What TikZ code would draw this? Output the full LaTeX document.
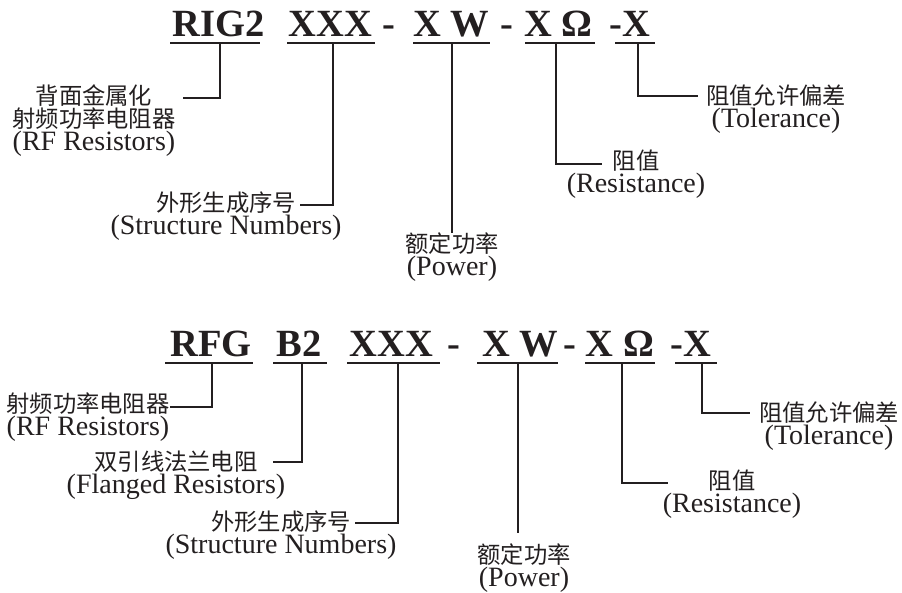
\documentclass[tikz,border=0pt]{standalone}
\usepackage{fontspec}
\newfontfamily\titlefont{Liberation Serif}
\newfontfamily\cjk{Noto Sans CJK SC}
\definecolor{ink}{HTML}{231F20}
\newcommand{\zh}[1]{{\cjk\fontsize{23.3}{23}\selectfont #1}}
\begin{document}
\begin{tikzpicture}[x=1pt,y=-1pt,
  title/.style={font=\titlefont\bfseries\fontsize{38.5}{40}\selectfont, inner sep=0pt, anchor=base, text=ink},
  lab/.style={align=center, inner sep=0pt, text=ink, font=\titlefont\fontsize{28}{23}\selectfont},
  ul/.style={draw=ink, line width=1.6pt},
  con/.style={draw=ink, line width=1.2pt}]
\useasboundingbox[fill=white] (0,0) rectangle (902,593);

% ---------- top code ----------
\node[title] (a1) at (218.5,37) {RIG2};
\node[title] (a2) at (330.5,37) {XXX};
\node[title] (a3) at (389,37) {-};
\node[title] (a4) at (451.5,37) {X W};
\node[title] (a5) at (507,37) {-};
\node[title] (a6) at (558.5,37) {X Ω};
\node[title] (a7) at (630,37) {-X};

\draw[ul] (170,43) -- (260,43);
\draw[ul] (287,43) -- (375,43);
\draw[ul] (413,43) -- (490,43);
\draw[ul] (525,43) -- (595,43);
\draw[ul] (615,43) -- (655,43);

\node[lab] (l1) at (94,121) {\zh{背面金属化}\\\zh{射频功率电阻器}\\(RF Resistors)};
\node[lab] (l2) at (226,216.5) {\zh{外形生成序号}\\(Structure Numbers)};
\node[lab] (l3) at (452,257.5) {\zh{额定功率}\\(Power)};
\node[lab] (l4) at (636,174) {\zh{阻值}\\(Resistance)};
\node[lab] (l5) at (776,109) {\zh{阻值允许偏差}\\(Tolerance)};

\coordinate (p1) at (220,43);  \coordinate (q1) at (183,98);
\coordinate (p2) at (333,43);  \coordinate (q2) at (300,205);
\coordinate (p3) at (452,43);  \coordinate (q3) at (452,233);
\coordinate (p4) at (556,43);  \coordinate (q4) at (602,164);
\coordinate (p5) at (638,43);  \coordinate (q5) at (698,96);
\draw[con] (p1) |- (q1);
\draw[con] (p2) |- (q2);
\draw[con] (p3) -- (q3);
\draw[con] (p4) |- (q4);
\draw[con] (p5) |- (q5);

% ---------- bottom code ----------
\node[title] (b1) at (211,357) {RFG};
\node[title] (b2) at (299,357) {B2};
\node[title] (b3) at (391.5,357) {XXX};
\node[title] (b4) at (454,357) {-};
\node[title] (b5) at (520,357) {X W};
\node[title] (b6) at (570,357) {-};
\node[title] (b7) at (620,357) {X Ω};
\node[title] (b8) at (691,357) {-X};

\draw[ul] (165,363) -- (253,363);
\draw[ul] (273,363) -- (327,363);
\draw[ul] (347,363) -- (440,363);
\draw[ul] (477,363) -- (558,363);
\draw[ul] (585,363) -- (655,363);
\draw[ul] (675,363) -- (717,363);

\node[lab] (m1) at (88,417.5) {\zh{射频功率电阻器}\\(RF Resistors)};
\node[lab] (m2) at (176,475) {\zh{双引线法兰电阻}\\(Flanged Resistors)};
\node[lab] (m3) at (281,535) {\zh{外形生成序号}\\(Structure Numbers)};
\node[lab] (m4) at (524,568.5) {\zh{额定功率}\\(Power)};
\node[lab] (m5) at (732,494.5) {\zh{阻值}\\(Resistance)};
\node[lab] (m6) at (829,426.5) {\zh{阻值允许偏差}\\(Tolerance)};

\coordinate (r1) at (212,363);  \coordinate (s1) at (170,407);
\coordinate (r2) at (302,363);  \coordinate (s2) at (273,462);
\coordinate (r3) at (398,363);  \coordinate (s3) at (355,523);
\coordinate (r4) at (518,363);  \coordinate (s4) at (518,533);
\coordinate (r5) at (622,363);  \coordinate (s5) at (668,483);
\coordinate (r6) at (702,363);  \coordinate (s6) at (750,413);
\draw[con] (r1) |- (s1);
\draw[con] (r2) |- (s2);
\draw[con] (r3) |- (s3);
\draw[con] (r4) -- (s4);
\draw[con] (r5) |- (s5);
\draw[con] (r6) |- (s6);
\end{tikzpicture}
\end{document}
